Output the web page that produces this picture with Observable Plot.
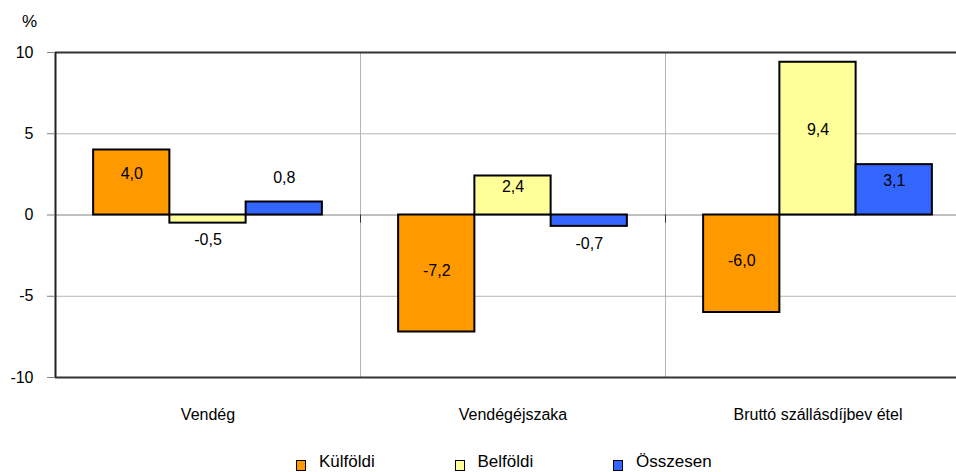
<!DOCTYPE html>
<html><head><meta charset="utf-8">
<script src="https://cdn.jsdelivr.net/npm/d3@7"></script>
<script src="https://cdn.jsdelivr.net/npm/@observablehq/plot@0.6"></script>
<style>
html,body{margin:0;padding:0;background:#fff;overflow:hidden;width:956px;height:472px}
#wrap{position:relative;width:956px;height:472px;overflow:hidden;font-family:"Liberation Sans",Arial,sans-serif;color:#000}
#chart svg{max-width:none !important}
#unit{position:absolute;left:22px;top:12px;font-size:17px}
#legend{position:absolute;left:296px;top:452px;display:flex;font-size:17px;line-height:20px}
.item{width:158.5px;display:flex;align-items:center}
.sw{width:8px;height:9px;border:1px solid #000;margin-right:13px;margin-top:7px}
</style></head>
<body><div id="wrap"><div id="chart"></div><div id="unit">%</div><div id="legend"></div></div>
<script>
const categories = ["Vendég", "Vendégéjszaka", "Bruttó szállásdíjbev étel"];
const series = ["Külföldi", "Belföldi", "Összesen"];
const kulfoldi = [4.0, -7.2, -6.0];
const belfoldi = [-0.5, 2.4, 9.4];
const osszesen = [0.8, -0.7, 3.1];
const yTicks = [-10, -5, 0, 5, 10];
const colors = ["#FF9900", "#FFFF99", "#3366FF"];

const rows = [];
[kulfoldi, belfoldi, osszesen].forEach((vals, si) =>
  vals.forEach((v, ci) => rows.push({category: categories[ci], series: series[si], value: v})));

const W = 970, H = 440, mL = 55, mR = 0, mT = 52, mB = 63;
const half = (W - mL - mR) / categories.length / 2;
const fmt = v => v.toFixed(1).replace(".", ",");
const big = d => Math.abs(d.value) >= 2;
const font = '"Liberation Sans", Arial, sans-serif';

const chart = Plot.plot({
  width: W, height: H, marginLeft: mL, marginRight: mR, marginTop: mT, marginBottom: mB,
  style: {fontFamily: font, fontSize: "16px", background: "white", color: "black", maxWidth: "none"},
  fx: {domain: categories, padding: 0, round: false, label: null},
  x: {domain: series, paddingInner: 0, paddingOuter: 0.5, round: false, axis: null},
  y: {domain: [-10, 10], label: null},
  color: {domain: series, range: colors},
  marks: [
    Plot.ruleY([-5, 5], {stroke: "#b4b4b4"}),
    Plot.ruleX(categories, {x: null, fx: d => d, dx: -half, stroke: "#b4b4b4"}),
    Plot.ruleY([0], {stroke: "#808080"}),
    Plot.ruleX(categories, {x: null, fx: d => d, dx: -half, y1: 0, y2: -0.5, stroke: "#333"}),
    Plot.barY(rows, {fx: "category", x: "series", y: "value", fill: "series", stroke: "black", strokeWidth: 2}),
    Plot.text(rows, {filter: d => big(d) && d.value > 0, fx: "category", x: "series", y: d => d.value / 2, dy: -9, text: d => fmt(d.value), fill: "black", fontSize: 16}),
    Plot.text(rows, {filter: d => big(d) && d.value < 0, fx: "category", x: "series", y: d => d.value / 2, dy: -3, text: d => fmt(d.value), fill: "black", fontSize: 16}),
    Plot.text(rows, {filter: d => !big(d) && d.value > 0, fx: "category", x: "series", y: "value", dy: -24, text: d => fmt(d.value), fill: "black", fontSize: 16}),
    Plot.text(rows, {filter: d => !big(d) && d.value < 0, fx: "category", x: "series", y: "value", dy: 17, text: d => fmt(d.value), fill: "black", fontSize: 16}),
    Plot.ruleY([-10, 10], {stroke: "#333", strokeWidth: 2}),
    Plot.ruleX(categories.slice(0, 1), {x: null, fx: d => d, dx: -half, stroke: "#222", strokeWidth: 2}),
    Plot.axisY({ticks: yTicks, tickSize: 8, tickPadding: 14, tickFormat: d => String(d), stroke: "#808080", fill: "black", fontSize: 16, label: null}),
    Plot.axisFx({anchor: "bottom", tickSize: 0, tickPadding: 31, fontSize: 16, fill: "black", label: null})
  ]
});
document.getElementById("chart").appendChild(chart);

const legend = document.getElementById("legend");
series.forEach((s, i) => {
  const item = document.createElement("div");
  item.className = "item";
  const sw = document.createElement("span");
  sw.className = "sw";
  sw.style.background = colors[i];
  const t = document.createElement("span");
  t.textContent = s;
  item.appendChild(sw);
  item.appendChild(t);
  legend.appendChild(item);
});
</script>
</body></html>
